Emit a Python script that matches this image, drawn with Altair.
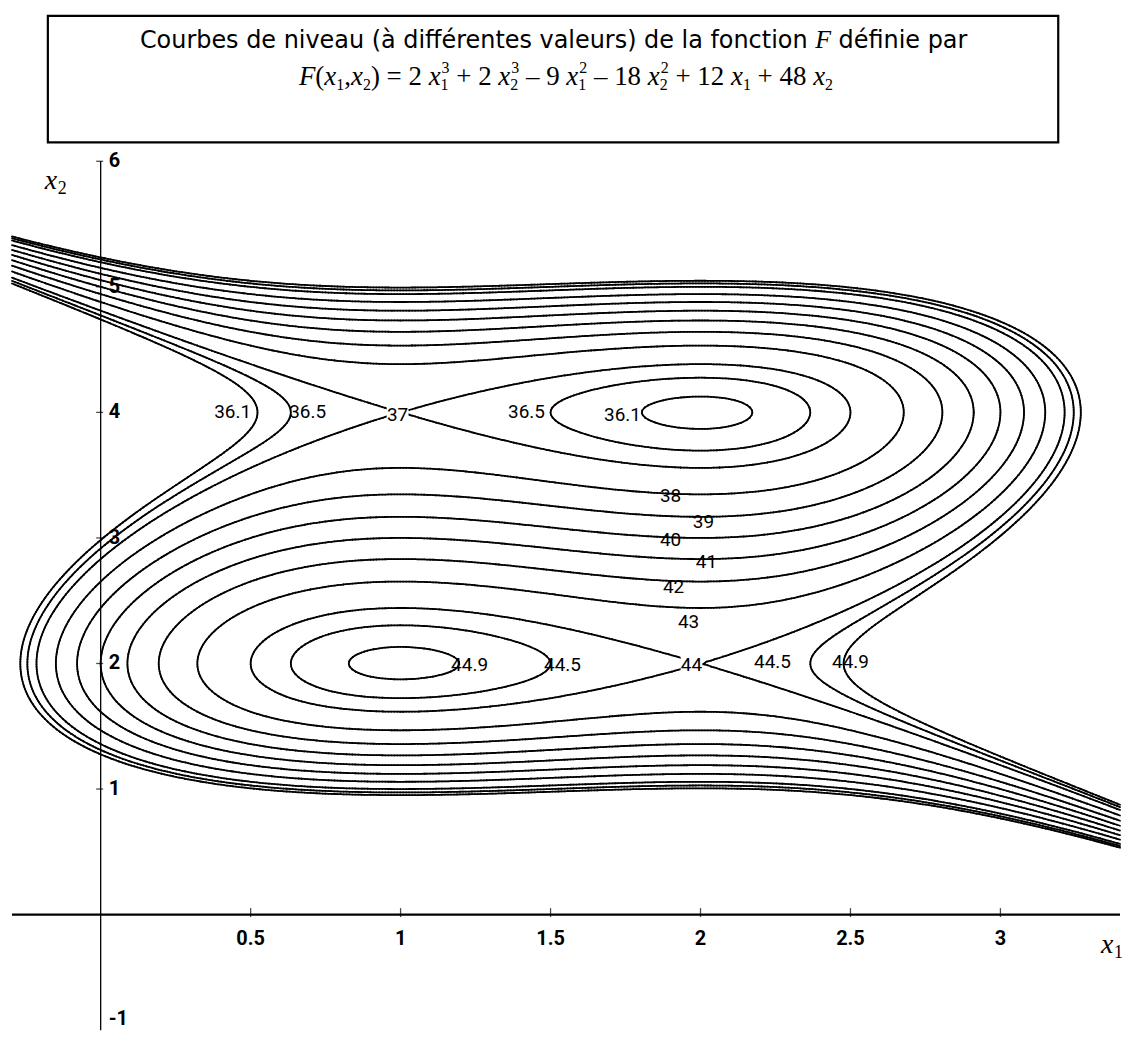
import numpy as np
import pandas as pd
import altair as alt

alt.data_transformers.disable_max_rows()

# ---------------- data ----------------
# F(x1,x2) = 2 x1^3 - 9 x1^2 + 12 x1 + 2 x2^3 - 18 x2^2 + 48 x2  (as printed in the title)
coef_x1 = [2, -9, 12, 0]
coef_x2 = [2, -18, 48, 0]
levels = [36.1, 36.5, 37, 38, 39, 40, 41, 42, 43, 44, 44.5, 44.9]

x_tick_values = [0.5, 1, 1.5, 2, 2.5, 3]
x_tick_labels = ["0.5", "1", "1.5", "2", "2.5", "3"]
y_tick_values = [1, 2, 3, 4, 5, 6]
y_tick_labels = ["1", "2", "3", "4", "5", "6"]

level_labels = ["36.1", "36.5", "37", "36.5", "36.1", "38", "39", "40", "41",
                "42", "43", "44", "44.5", "44.9", "44.9", "44.5"]
level_label_x1 = [0.44, 0.69, 0.99, 1.42, 1.74, 1.90, 2.01, 1.90, 2.02,
                  1.91, 1.96, 1.97, 2.24, 2.50, 1.23, 1.54]
level_label_x2 = [4.00, 4.00, 3.98, 4.00, 3.98, 3.33, 3.13, 2.98, 2.81,
                  2.61, 2.33, 1.99, 2.01, 2.01, 1.99, 1.99]
saddle_labels = ["37", "44"]

title_line1_a = "Courbes de niveau (à différentes valeurs) de la fonction"
title_line1_F = "F"
title_line1_b = "définie par"
formula_tokens = [("F", "it"), ("(", "rm"), ("x", "it"), ("1", "sub"), (",", "rm"),
                  ("x", "it"), ("2", "sub"), (")", "rm"), (" = 2 ", "rm"),
                  ("x", "it"), ("1", "sub"), ("3", "sup"), (" + 2 ", "rm"),
                  ("x", "it"), ("2", "sub"), ("3", "sup"), (" \u2013 9 ", "rm"),
                  ("x", "it"), ("1", "sub"), ("2", "sup"), (" \u2013 18 ", "rm"),
                  ("x", "it"), ("2", "sub"), ("2", "sup"), (" + 12 ", "rm"),
                  ("x", "it"), ("1", "sub"), (" + 48 ", "rm"), ("x", "it"), ("2", "sub")]

# ---------------- geometry ----------------
W, H = 1112, 872
PAD = {"left": 4, "top": 152, "right": 3, "bottom": 0}
X_MIN, X_MAX = -0.2957, 3.3987
Y_MIN, Y_MAX = -0.9206, 6.0
OX, OY = 8 + PAD["left"], 8 + PAD["top"]          # page position of plot origin


def px2x(px):
    return X_MIN + (px - OX) / W * (X_MAX - X_MIN)


def py2y(py):
    return Y_MAX - (py - OY) / H * (Y_MAX - Y_MIN)


xsc = alt.Scale(domain=[X_MIN, X_MAX], nice=False, zero=False)
ysc = alt.Scale(domain=[Y_MIN, Y_MAX], nice=False, zero=False)

# ---------------- contour segments (marching squares) ----------------
gx = np.linspace(X_MIN, X_MAX, 372)
gy = np.linspace(Y_MIN, Y_MAX, 350)
GX, GY = np.meshgrid(gx, gy)
Z = np.polyval(coef_x1, GX) + np.polyval(coef_x2, GY)


def contour_segments(L):
    z00, z10, z01, z11 = Z[:-1, :-1], Z[:-1, 1:], Z[1:, :-1], Z[1:, 1:]
    b00, b10, b01, b11 = z00 > L, z10 > L, z01 > L, z11 > L
    shp = z00.shape
    X0 = np.broadcast_to(gx[:-1][None, :], shp)
    X1 = np.broadcast_to(gx[1:][None, :], shp)
    Y0 = np.broadcast_to(gy[:-1][:, None], shp)
    Y1 = np.broadcast_to(gy[1:][:, None], shp)
    with np.errstate(divide="ignore", invalid="ignore"):
        tB = (L - z00) / (z10 - z00)
        tR = (L - z10) / (z11 - z10)
        tT = (L - z01) / (z11 - z01)
        tL = (L - z00) / (z01 - z00)
    pts = {"B": (X0 + tB * (X1 - X0), Y0), "R": (X1, Y0 + tR * (Y1 - Y0)),
           "T": (X0 + tT * (X1 - X0), Y1), "L": (X0, Y0 + tL * (Y1 - Y0))}
    cross = {"B": b00 != b10, "R": b10 != b11, "T": b01 != b11, "L": b00 != b01}
    n = sum(c.astype(int) for c in cross.values())
    zc = (z00 + z10 + z01 + z11) / 4
    like00 = (zc > L) == b00
    rows = []

    def add(a, b, m):
        if m.any():
            rows.append(np.column_stack([pts[a][0][m], pts[a][1][m],
                                         pts[b][0][m], pts[b][1][m]]))

    for a, b in [("B", "R"), ("B", "T"), ("B", "L"), ("R", "T"), ("R", "L"), ("T", "L")]:
        add(a, b, (n == 2) & cross[a] & cross[b])
    m4 = n == 4
    add("B", "R", m4 & like00)
    add("T", "L", m4 & like00)
    add("B", "L", m4 & ~like00)
    add("R", "T", m4 & ~like00)
    return np.vstack(rows)


seg = np.vstack([contour_segments(L) for L in levels])
seg_df = pd.DataFrame(np.round(seg, 4), columns=["x", "y", "x2", "y2"])

contours = alt.Chart(seg_df).mark_rule(color="black", strokeWidth=1.8, strokeCap="round").encode(
    x=alt.X("x:Q", scale=xsc, axis=None),
    y=alt.Y("y:Q", scale=ysc, axis=None),
    x2="x2:Q", y2="y2:Q")

# ---------------- axes drawn at x1 = 0 and x2 = 0 ----------------
xaxis = alt.Chart(pd.DataFrame({"x": [X_MIN], "x2": [X_MAX], "y": [0.0]})).mark_rule(
    color="black", strokeWidth=2.2).encode(x="x:Q", x2="x2:Q", y="y:Q")
yaxis = alt.Chart(pd.DataFrame({"x": [0.0], "y": [Y_MIN], "y2": [Y_MAX]})).mark_rule(
    color="black", strokeWidth=1.3).encode(x="x:Q", y="y:Q", y2="y2:Q")

xt_df = pd.DataFrame({"v": x_tick_values, "lab": x_tick_labels, "z": 0.0})
yt_df = pd.DataFrame({"v": y_tick_values, "lab": y_tick_labels, "z": 0.0})

xticks = alt.Chart(xt_df).mark_tick(orient="vertical", size=9, thickness=1.3, yOffset=-2,
                                    color="black").encode(x="v:Q", y="z:Q")
yticks = alt.Chart(yt_df).mark_tick(orient="horizontal", size=7, thickness=1.3, xOffset=-1,
                                    color="black").encode(x="z:Q", y="v:Q")

tick_font = "Roboto, DejaVu Sans, sans-serif"
xlabels = alt.Chart(xt_df).mark_text(font=tick_font, fontWeight="bold", fontSize=20,
                                     baseline="top", dy=15, color="black").encode(
    x="v:Q", y="z:Q", text="lab:N")
ylabels = alt.Chart(yt_df).mark_text(font=tick_font, fontWeight="bold", fontSize=20,
                                     align="left", baseline="middle", dx=8,
                                     color="black").encode(x="z:Q", y="v:Q", text="lab:N")
yminlab = alt.Chart(pd.DataFrame({"x": [0.0], "y": [Y_MIN], "lab": ["-1"]})).mark_text(
    font=tick_font, fontWeight="bold", fontSize=20, align="left", baseline="bottom",
    dx=8, dy=-1, color="black").encode(x="x:Q", y="y:Q", text="lab:N")

# axis names x1, x2 (italic serif with subscript)
ax_df = pd.DataFrame({"x": [px2x(45), px2x(1105)], "y": [py2y(188), py2y(955)], "t": ["x", "x"]})
ax_sub = pd.DataFrame({"x": [px2x(58), px2x(1118)], "y": [py2y(193), py2y(960)], "t": ["2", "1"]})
axname = alt.Chart(ax_df).mark_text(font="Liberation Serif", fontStyle="italic", fontSize=28,
                                    align="left", baseline="alphabetic", color="black").encode(
    x="x:Q", y="y:Q", text="t:N")
axsub = alt.Chart(ax_sub).mark_text(font="Liberation Serif", fontSize=18, align="left",
                                    baseline="alphabetic", color="black").encode(
    x="x:Q", y="y:Q", text="t:N")

# ---------------- contour labels ----------------
lab_df = pd.DataFrame({"x": level_label_x1, "y": level_label_x2, "t": level_labels})
sad_df = lab_df[lab_df["t"].isin(saddle_labels)]
lab_bg = alt.Chart(sad_df).mark_square(size=480, color="white", opacity=1).encode(x="x:Q", y="y:Q")
lab_txt = alt.Chart(lab_df).mark_text(font="Roboto, DejaVu Sans, sans-serif",
                                      fontSize=19, baseline="middle", color="black").encode(
    x="x:Q", y="y:Q", text="t:N")

# ---------------- title box ----------------
BOX_L, BOX_R = 48, 1062
box = alt.Chart(pd.DataFrame({"x": [px2x(BOX_L)], "x2": [px2x(BOX_R)],
                              "y": [py2y(14)], "y2": [py2y(141)]})).mark_rect(
    fill="white", fillOpacity=0, stroke="black", strokeWidth=2.2).encode(
    x="x:Q", x2="x2:Q", y="y:Q", y2="y2:Q")

# line 1 : centred in the box, F in italic serif (DejaVu Sans metrics for the rest)
DJV = {"C": .698, "o": .612, "u": .634, "r": .411, "b": .635, "e": .615, "s": .521, " ": .318,
       "d": .635, "n": .634, "i": .278, "v": .592, "a": .613, "(": .390, ")": .390, "à": .613,
       "f": .352, "é": .615, "t": .392, "l": .278, "c": .550, "p": .635}
S1 = 24
wa = sum(DJV.get(c, .6) for c in title_line1_a) * S1
wb = sum(DJV.get(c, .6) for c in title_line1_b) * S1
wF = 0.611 * 26
gap = 0.318 * S1
tot1 = wa + gap + wF + gap + wb
F_PX = (BOX_L + BOX_R) / 2 - tot1 / 2 + wa + gap
BASE1 = 46
t1 = alt.Chart(pd.DataFrame({"x": [px2x(F_PX - gap)], "y": [py2y(BASE1)], "t": [title_line1_a]})).mark_text(
    font="DejaVu Sans", fontSize=S1, align="right", baseline="alphabetic", color="black").encode(
    x="x:Q", y="y:Q", text="t:N")
t1F = alt.Chart(pd.DataFrame({"x": [px2x(F_PX)], "y": [py2y(BASE1)], "t": [title_line1_F]})).mark_text(
    font="Liberation Serif", fontStyle="italic", fontSize=26, align="left", baseline="alphabetic",
    color="black").encode(x="x:Q", y="y:Q", text="t:N")
t1b = alt.Chart(pd.DataFrame({"x": [px2x(F_PX + wF + gap)], "y": [py2y(BASE1)], "t": [title_line1_b]})).mark_text(
    font="DejaVu Sans", fontSize=S1, align="left", baseline="alphabetic", color="black").encode(
    x="x:Q", y="y:Q", text="t:N")

# line 2 : formula laid out piece by piece with Times metrics (spaces only move the cursor)
WID = {"0": .5, "1": .5, "2": .5, "3": .5, "4": .5, "5": .5, "6": .5, "7": .5, "8": .5, "9": .5,
       " ": .25, "(": .333, ")": .333, ",": .25, "=": .564, "+": .564, "\u2013": .5,
       "F": .611, "x": .444}
S_MAIN, S_SMALL = 27, 16
BASE2 = 83
CX2 = 568
rows = []
cur = 0.0
last_sub_x = 0.0
prev_sty = None
for txt, sty in formula_tokens:
    size = S_MAIN if sty in ("rm", "it") else S_SMALL
    if sty == "sup" and prev_sty == "sub":
        x0 = last_sub_x + 1
        w = sum(WID.get(c, .5) for c in txt) * size
        rows.append({"t": txt, "sty": sty, "px": x0, "py": BASE2 - 12})
        cur = max(cur, x0 + w)
    else:
        if sty == "sub":
            last_sub_x = cur
        dy = {"rm": 0, "it": 0, "sub": 5, "sup": -12}[sty]
        word, wx = "", cur
        for ch in txt + " ":
            if ch == " ":
                if word:
                    rows.append({"t": word, "sty": sty, "px": wx, "py": BASE2 + dy})
                    word = ""
            else:
                if not word:
                    wx = cur
                word += ch
            cur += WID.get(ch, .5) * size
        cur -= WID[" "] * size  # remove the sentinel space
    prev_sty = sty
total = cur
start = CX2 - total / 2
f_df = pd.DataFrame(rows)
f_df["x"] = [px2x(start + p) for p in f_df["px"]]
f_df["y"] = [py2y(p) for p in f_df["py"]]
f_rm = alt.Chart(f_df[f_df["sty"] == "rm"]).mark_text(
    font="Liberation Serif", fontSize=S_MAIN, align="left", baseline="alphabetic",
    color="black").encode(x="x:Q", y="y:Q", text="t:N")
f_it = alt.Chart(f_df[f_df["sty"] == "it"]).mark_text(
    font="Liberation Serif", fontStyle="italic", fontSize=S_MAIN, align="left",
    baseline="alphabetic", color="black").encode(x="x:Q", y="y:Q", text="t:N")
f_sm = alt.Chart(f_df[f_df["sty"].isin(["sub", "sup"])]).mark_text(
    font="Liberation Serif", fontSize=S_SMALL, align="left", baseline="alphabetic",
    color="black").encode(x="x:Q", y="y:Q", text="t:N")

chart = alt.layer(
    contours, xaxis, yaxis, xticks, yticks, xlabels, ylabels, yminlab, axname, axsub,
    lab_bg, lab_txt, box, t1, t1F, t1b, f_rm, f_it, f_sm
).properties(
    width=W, height=H, padding=PAD, background="white",
    autosize=alt.AutoSizeParams(type="none")
).configure_view(strokeWidth=0, stroke="transparent")

chart.save("out.html", embed_options={"renderer": "svg", "actions": False})
